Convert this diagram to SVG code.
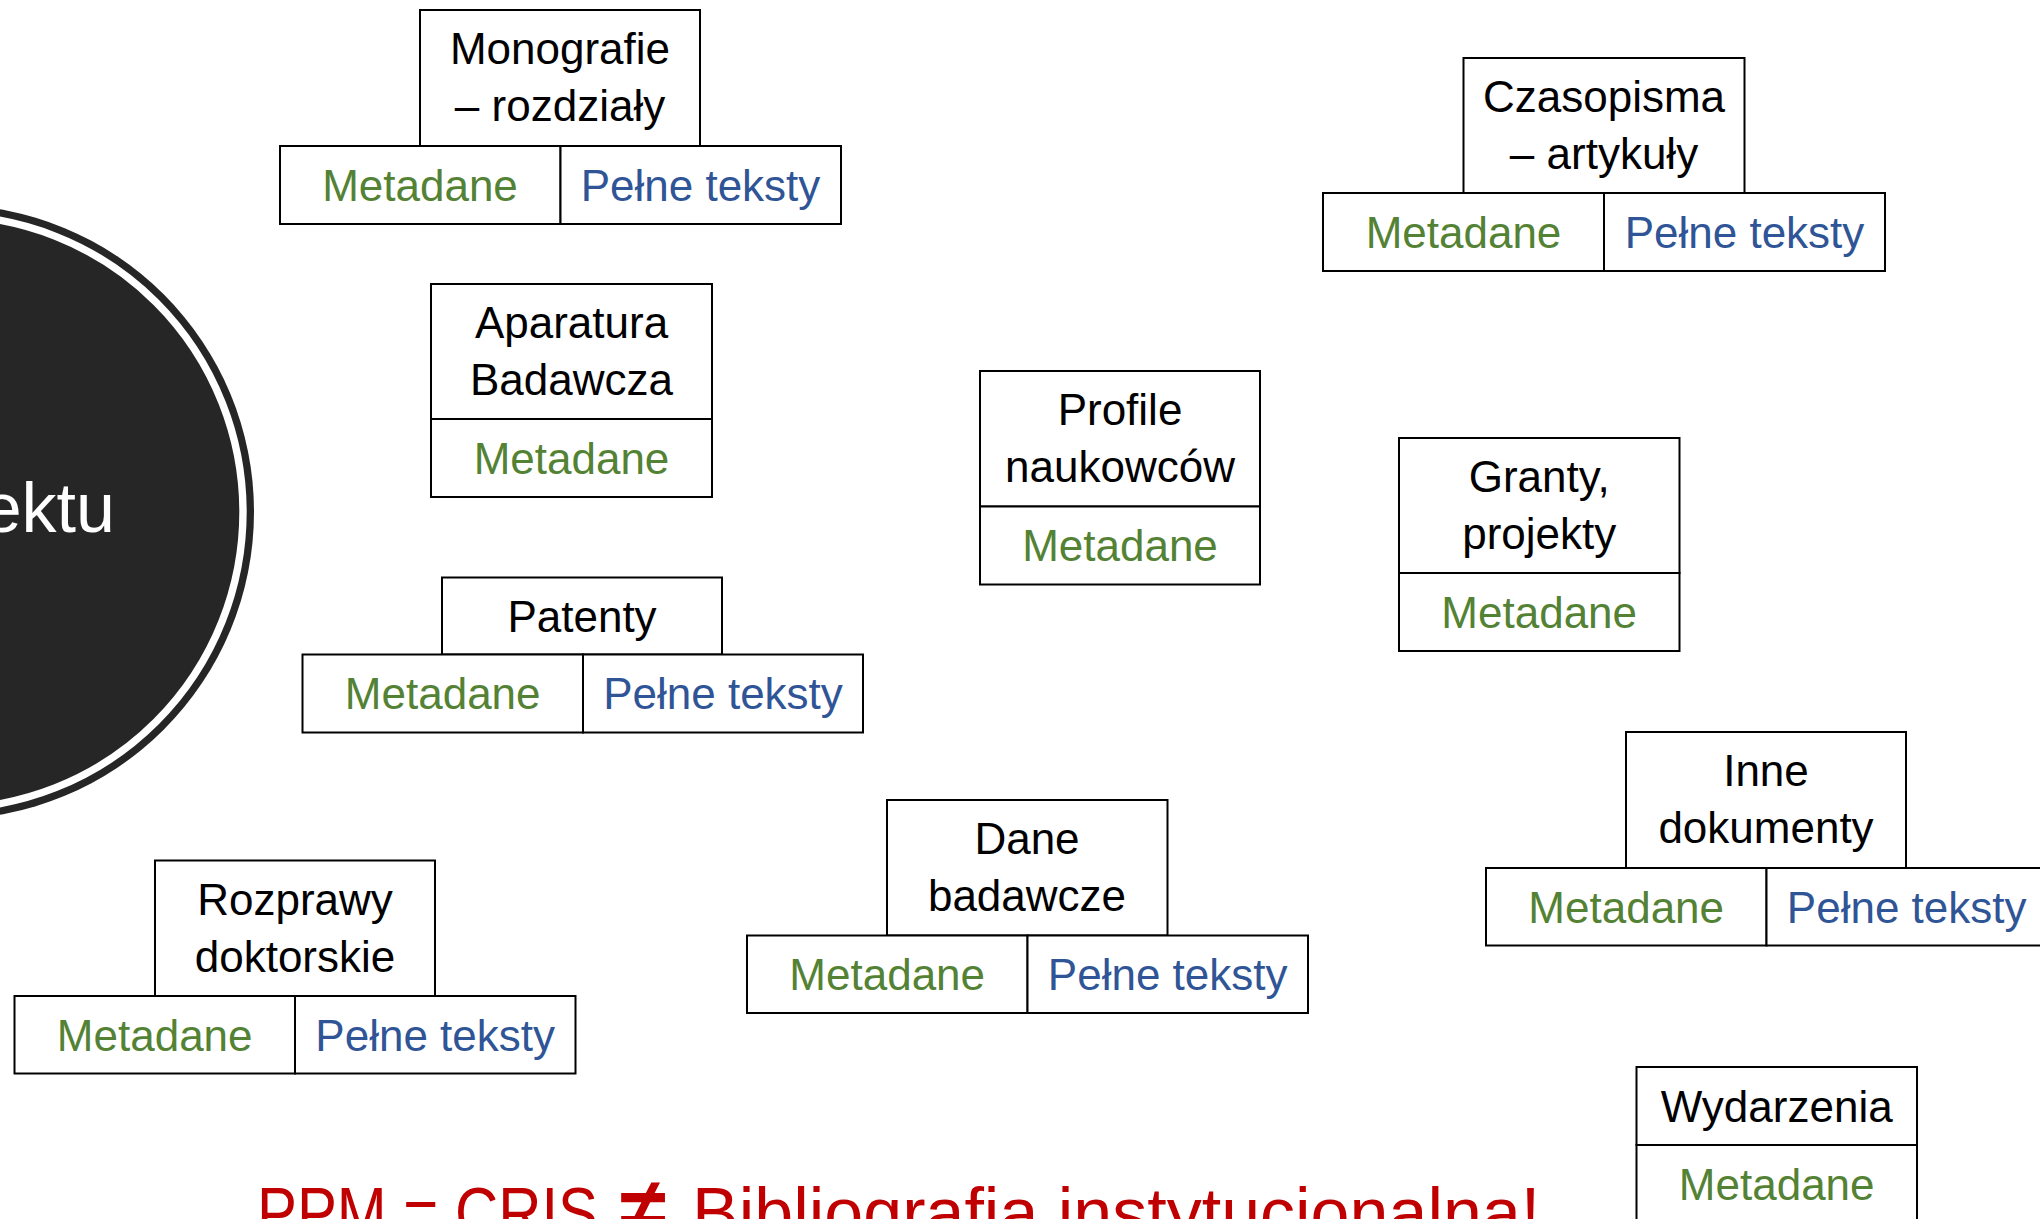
<svg xmlns="http://www.w3.org/2000/svg" width="2040" height="1219" viewBox="0 0 2040 1219">
<style>
.box{fill:#fff;stroke:#000;stroke-width:2}
.t{font-family:"Liberation Sans",Arial,sans-serif;font-size:44px;text-anchor:middle}
.k{fill:#000}
.g{fill:#548235}
.b{fill:#2F5597}
.red{font-family:"Liberation Sans",Arial,sans-serif;font-size:70px;fill:#C00000}
</style>
<rect x="0" y="0" width="2040" height="1219" fill="#fff"/>
<g id="circle">
<circle cx="-53.5" cy="512" r="307.5" fill="#262626"/>
<circle cx="-53.5" cy="512" r="296.5" fill="none" stroke="#fff" stroke-width="7.4"/>
<text x="115" y="532" font-family="Liberation Sans,Arial,sans-serif" font-size="70" fill="#fff" text-anchor="end">ektu</text>
</g>
<g id="connectors"/>
<g id="monografie">
<rect class="box" x="420" y="10" width="280" height="136"/>
<rect class="box" x="280" y="146" width="280.5" height="78"/>
<rect class="box" x="560.5" y="146" width="280.5" height="78"/>
<text class="t k" x="560" y="64">Monografie</text>
<text class="t k" x="560" y="121">– rozdziały</text>
<text class="t g" x="420" y="201">Metadane</text>
<text class="t b" x="700.5" y="201">Pełne teksty</text>
</g>
<g id="aparatura">
<rect class="box" x="431" y="284" width="281" height="135"/>
<rect class="box" x="431" y="419" width="281" height="78"/>
<text class="t k" x="571.5" y="338">Aparatura</text>
<text class="t k" x="571.5" y="395">Badawcza</text>
<text class="t g" x="571.5" y="474">Metadane</text>
</g>
<g id="patenty">
<rect class="box" x="442" y="577.5" width="280" height="77"/>
<rect class="box" x="302.5" y="654.5" width="280.5" height="78"/>
<rect class="box" x="583" y="654.5" width="280" height="78"/>
<text class="t k" x="582" y="632">Patenty</text>
<text class="t g" x="442.7" y="709">Metadane</text>
<text class="t b" x="723" y="709">Pełne teksty</text>
</g>
<g id="rozprawy">
<rect class="box" x="155" y="860.5" width="280" height="135.5"/>
<rect class="box" x="14.5" y="996" width="280.5" height="77.5"/>
<rect class="box" x="295" y="996" width="280.5" height="77.5"/>
<text class="t k" x="295" y="914.5">Rozprawy</text>
<text class="t k" x="295" y="971.5">doktorskie</text>
<text class="t g" x="154.7" y="1050.5">Metadane</text>
<text class="t b" x="435.2" y="1050.5">Pełne teksty</text>
</g>
<g id="dane-badawcze">
<rect class="box" x="887" y="800" width="280.5" height="135.5"/>
<rect class="box" x="747" y="935.5" width="280.5" height="77.5"/>
<rect class="box" x="1027.5" y="935.5" width="280.5" height="77.5"/>
<text class="t k" x="1027" y="854">Dane</text>
<text class="t k" x="1027" y="911">badawcze</text>
<text class="t g" x="887.2" y="990">Metadane</text>
<text class="t b" x="1167.7" y="990">Pełne teksty</text>
</g>
<g id="profile">
<rect class="box" x="980" y="371" width="280" height="135.5"/>
<rect class="box" x="980" y="506.5" width="280" height="78"/>
<text class="t k" x="1120" y="425">Profile</text>
<text class="t k" x="1120" y="482">naukowców</text>
<text class="t g" x="1120" y="561.2">Metadane</text>
</g>
<g id="czasopisma">
<rect class="box" x="1463.5" y="58" width="281" height="135"/>
<rect class="box" x="1323" y="193" width="281" height="78"/>
<rect class="box" x="1604" y="193" width="281" height="78"/>
<text class="t k" x="1604" y="112">Czasopisma</text>
<text class="t k" x="1604" y="169">– artykuły</text>
<text class="t g" x="1463.5" y="247.8">Metadane</text>
<text class="t b" x="1744.5" y="247.8">Pełne teksty</text>
</g>
<g id="granty">
<rect class="box" x="1399" y="438" width="280.5" height="135"/>
<rect class="box" x="1399" y="573" width="280.5" height="78"/>
<text class="t k" x="1539.2" y="492">Granty,</text>
<text class="t k" x="1539.2" y="549">projekty</text>
<text class="t g" x="1539.2" y="627.8">Metadane</text>
</g>
<g id="inne">
<rect class="box" x="1626" y="732" width="280" height="136"/>
<rect class="box" x="1486" y="868" width="280.5" height="77.5"/>
<rect class="box" x="1766.5" y="868" width="285" height="77.5"/>
<text class="t k" x="1766" y="786">Inne</text>
<text class="t k" x="1766" y="843">dokumenty</text>
<text class="t g" x="1626.2" y="922.5">Metadane</text>
<text class="t b" x="1906.7" y="922.5">Pełne teksty</text>
</g>
<g id="wydarzenia">
<rect class="box" x="1636.5" y="1067" width="280.5" height="78"/>
<rect class="box" x="1636.5" y="1145" width="280.5" height="80"/>
<text class="t k" x="1776.7" y="1121.7">Wydarzenia</text>
<text class="t g" x="1776.7" y="1199.7">Metadane</text>
</g>
<g id="caption">
<text class="red" y="1237"><tspan x="257" textLength="341" lengthAdjust="spacingAndGlyphs">PPM = CRIS</tspan> <tspan x="620" font-weight="bold" font-size="84">≠</tspan> <tspan x="692">Bibliografia instytucjonalna!</tspan></text>
</g>
</svg>
